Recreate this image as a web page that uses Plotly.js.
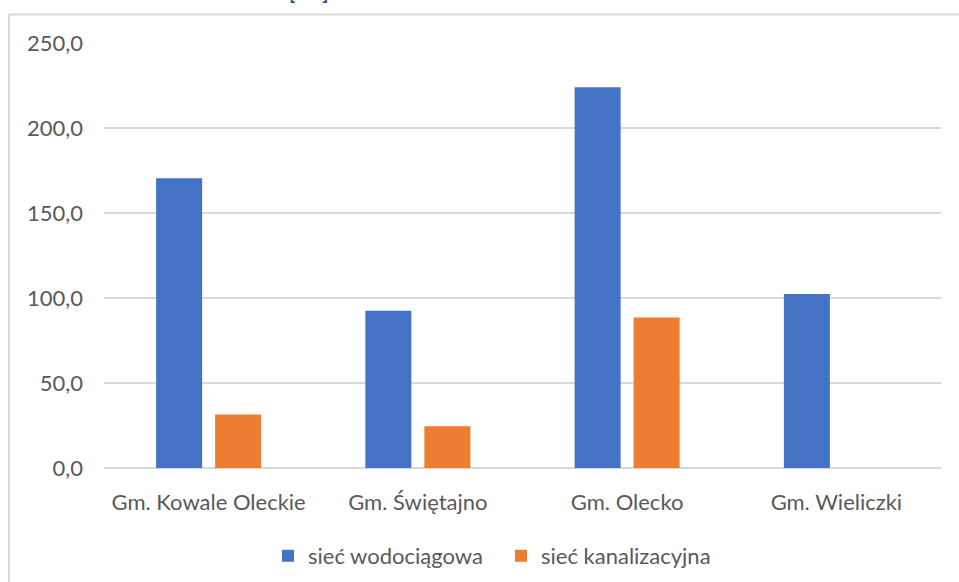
<!DOCTYPE html>
<html>
<head>
<meta charset="utf-8">
<script src="https://cdn.plot.ly/plotly-3.0.1.min.js"></script>
<style>
  html, body { margin: 0; padding: 0; background: #ffffff; }
  #chart { width: 959px; height: 582px; }
</style>
</head>
<body>
<div id="chart"></div>
<script>
// Długość sieci w gminach [km]
const gminy = ["Gm. Kowale Oleckie", "Gm. Świętajno", "Gm. Olecko", "Gm. Wieliczki"];
const siecWodociagowa = [170.4, 92.5, 224.0, 102.3];
const siecKanalizacyjna = [31.4, 24.6, 88.6, null];
const yTicks = [0, 50, 100, 150, 200, 250];
const yTickLabels = ["0,0", "50,0", "100,0", "150,0", "200,0", "250,0"];

const FONT = "Lato, 'Noto Sans', sans-serif";
const GREY = "#595959";
const FS = 22;

const traces = [
  {
    type: "bar",
    name: "sieć wodociągowa",
    x: gminy,
    y: siecWodociagowa,
    marker: { color: "#4472C4", line: { width: 0 } },
    hoverinfo: "x+y"
  },
  {
    type: "bar",
    name: "sieć kanalizacyjna",
    x: gminy,
    y: siecKanalizacyjna,
    marker: { color: "#ED7D31", line: { width: 0 } },
    hoverinfo: "x+y"
  }
];

const layout = {
  width: 959,
  height: 582,
  margin: { l: 104, r: 18, t: 43, b: 114, autoexpand: false },
  paper_bgcolor: "#ffffff",
  plot_bgcolor: "#ffffff",
  font: { family: FONT, size: FS, color: GREY },
  barmode: "group",
  bargap: 0.436,
  bargroupgap: 0.22,
  showlegend: true,
  legend: {
    orientation: "h",
    x: (268 - 104) / 837, xanchor: "left",
    y: -0.207, yanchor: "middle",
    font: { family: FONT, size: FS, color: GREY },
    itemwidth: 30,
    entrywidth: 188,
    traceorder: "normal"
  },
  xaxis: {
    type: "category",
    automargin: false,
    showgrid: false,
    showline: false,
    zeroline: false,
    ticks: "",
    tickfont: { family: FONT, size: FS, color: GREY },
    ticklabelstandoff: 19,
    fixedrange: true
  },
  yaxis: {
    range: [0, 250],
    automargin: false,
    tickvals: yTicks,
    ticktext: yTickLabels,
    showgrid: true,
    gridcolor: "#d9d9d9",
    gridwidth: 2,
    zeroline: true,
    zerolinecolor: "#d9d9d9",
    zerolinewidth: 2,
    showline: false,
    ticks: "",
    tickfont: { family: FONT, size: FS, color: GREY },
    ticklabelstandoff: 20,
    fixedrange: true
  },
  shapes: [
    // chart frame: top edge
    {
      type: "line", xref: "paper", yref: "paper",
      xsizemode: "pixel", xanchor: 0, x0: -95, x1: 900,
      ysizemode: "pixel", yanchor: 1, y0: 28.5, y1: 28.5,
      line: { color: "#d9d9d9", width: 2 }
    },
    // chart frame: left edge
    {
      type: "line", xref: "paper", yref: "paper",
      xsizemode: "pixel", xanchor: 0, x0: -95, x1: -95,
      ysizemode: "pixel", yanchor: 1, y0: 28.5, y1: -600,
      line: { color: "#d9d9d9", width: 2 }
    }
  ],
  annotations: [
    {
      text: "<b>[km]</b>",
      xref: "paper", yref: "paper",
      x: (308 - 104) / 837, xanchor: "center",
      y: 1.089, yanchor: "bottom",
      showarrow: false,
      font: { family: FONT, size: 20, color: "#2F5597" }
    }
  ]
};

Plotly.newPlot("chart", traces, layout, { displayModeBar: false, staticPlot: true });
</script>
</body>
</html>
